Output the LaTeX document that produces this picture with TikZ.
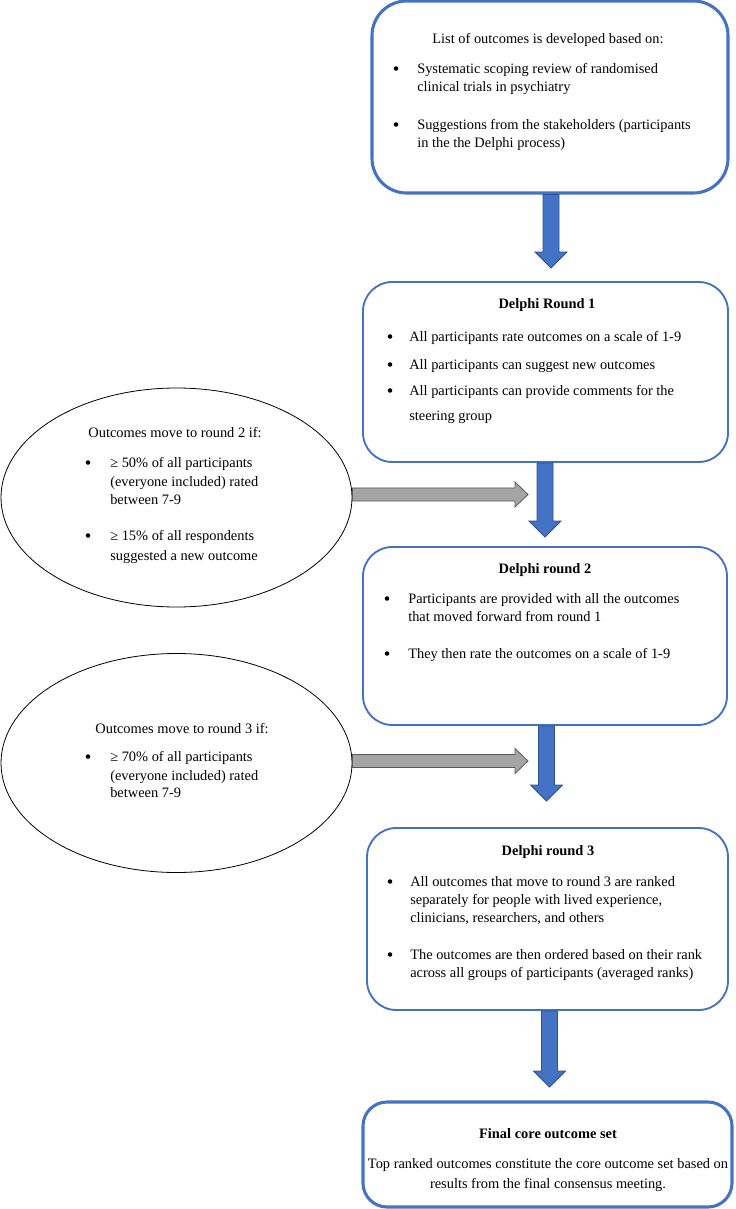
\documentclass[tikz,border=0pt]{standalone}
\usepackage{fontspec}
\setmainfont{Liberation Serif}
\usetikzlibrary{shapes.geometric,calc}
\definecolor{boxblue}{HTML}{4472C4}
\definecolor{arrowedge}{HTML}{2F528F}
\definecolor{grayfill}{HTML}{A5A5A5}
\definecolor{grayedge}{HTML}{595959}
% vertical block arrow from #1 (start) to tip #2
\newcommand{\blockdown}[3]{%
  \path[#3] let \p1=(#1), \p2=(#2) in
    (\x2-6pt,\y1) -- (\x2+6pt,\y1) -- (\x2+6pt,\y2+12pt) -- (\x2+12pt,\y2+12pt)
    -- (\x2,\y2) -- (\x2-12pt,\y2+12pt) -- (\x2-6pt,\y2+12pt) -- cycle;}
% horizontal block arrow from #1 (start) to tip #2
\newcommand{\blockright}[3]{%
  \path[#3] let \p1=(#1), \p2=(#2) in
    (\x1,\y2-4.9pt) -- (\x2-9.75pt,\y2-4.9pt) -- (\x2-9.75pt,\y2-9.4pt) -- (\x2,\y2)
    -- (\x2-9.75pt,\y2+9.4pt) -- (\x2-9.75pt,\y2+4.9pt) -- (\x1,\y2+4.9pt) -- cycle;}
\newcommand{\tline}[4]{\node[txt,anchor=mid west] (#1) at (#2,#3) {#4};}
\newcommand{\tcen}[4]{\node[txt,anchor=mid] (#1) at (#2,#3) {#4};}
\newcommand{\ttit}[4]{\node[ttl,anchor=mid] (#1) at (#2,#3) {#4};}
\newcommand{\bdot}[3]{\node[bulletdot] (#1) at (#2,#3-1.5) {};}
\begin{document}
\begin{tikzpicture}[x=0.75pt,y=-0.75pt,
  box/.style={draw=boxblue, rounded corners=22pt, line width=1.4pt, inner sep=0pt, fill=white},
  thickbox/.style={box, line width=2.3pt},
  oval/.style={draw=black, ellipse, line width=0.6pt, inner sep=0pt},
  bluearr/.style={fill=boxblue, draw=arrowedge, line width=0.6pt},
  grayarr/.style={fill=grayfill, draw=grayedge, line width=0.6pt},
  bulletdot/.style={circle, fill=black, inner sep=0pt, minimum size=3.4pt},
  txt/.style={font=\fontsize{10.8}{13}\selectfont, inner sep=0pt},
  ttl/.style={font=\fontsize{10.8}{13}\selectfont\bfseries, inner sep=0pt}]
\useasboundingbox (0,0) rectangle (735,1209);

% boxes
\node[thickbox, rounded corners=26pt, minimum width=267pt, minimum height=144pt] (b1) at (550,97) {};
\node[box, minimum width=273.75pt, minimum height=135pt] (b2) at (545.5,372) {};
\node[box, minimum width=273pt, minimum height=133.5pt] (b3) at (545,636) {};
\node[box, minimum width=270.75pt, minimum height=136.5pt] (b4) at (547.5,919) {};
\node[thickbox, rounded corners=18pt, minimum width=276.75pt, minimum height=78.75pt] (b5) at (547.5,1154.5) {};

% ellipses
\node[oval, minimum width=263.25pt, minimum height=164.25pt] (e1) at (176.5,497.5) {};
\node[oval, minimum width=263.25pt, minimum height=164.25pt] (e2) at (176.5,763) {};

% arrow tips
\coordinate (t1) at (551,268);
\coordinate (t2) at (545,537);
\coordinate (t3) at (546.5,801);
\coordinate (t4) at (549.5,1087);
\coordinate (g1) at (528,494.5);
\coordinate (g2) at (528,761);

\blockdown{b1.south}{t1}{bluearr}
\blockdown{b2.south}{t2}{bluearr}
\blockdown{b3.south}{t3}{bluearr}
\blockdown{b4.south}{t4}{bluearr}
\blockright{e1.east}{g1}{grayarr}
\blockright{e2.east}{g2}{grayarr}

% box 1 text
\tcen{b1t}{548}{40}{List of outcomes is developed based on:}
\bdot{b1d1}{396}{70}
\tline{b1l1}{417}{70}{Systematic scoping review of randomised}
\tline{b1l2}{417}{88}{clinical trials in psychiatry}
\bdot{b1d2}{396}{126}
\tline{b1l3}{417}{126}{Suggestions from the stakeholders (participants}
\tline{b1l4}{417}{144}{in the the Delphi process)}

% box 2 text
\ttit{b2t}{547}{305}{Delphi Round 1}
\bdot{b2d1}{390}{338}
\tline{b2l1}{409}{338}{All participants rate outcomes on a scale of 1-9}
\bdot{b2d2}{390}{366}
\tline{b2l2}{409}{366}{All participants can suggest new outcomes}
\bdot{b2d3}{390}{392}
\tline{b2l3}{409}{392}{All participants can provide comments for the}
\tline{b2l4}{409}{417}{steering group}

% box 3 text
\ttit{b3t}{545}{570}{Delphi round 2}
\bdot{b3d1}{387}{600}
\tline{b3l1}{408}{600}{Participants are provided with all the outcomes}
\tline{b3l2}{408}{618}{that moved forward from round 1}
\bdot{b3d2}{387}{655}
\tline{b3l3}{408}{655}{They then rate the outcomes on a scale of 1-9}

% box 4 text
\ttit{b4t}{548}{852}{Delphi round 3}
\bdot{b4d1}{390}{883}
\tline{b4l1}{410}{883}{All outcomes that move to round 3 are ranked}
\tline{b4l2}{410}{901}{separately for people with lived experience,}
\tline{b4l3}{410}{919}{clinicians, researchers, and others}
\bdot{b4d2}{390}{956}
\tline{b4l4}{410}{956}{The outcomes are then ordered based on their rank}
\tline{b4l5}{410}{974}{across all groups of participants (averaged ranks)}

% box 5 text
\ttit{b5t}{548}{1135}{Final core outcome set}
\tcen{b5l1}{548}{1165}{Top ranked outcomes constitute the core outcome set based on}
\tcen{b5l2}{548}{1185}{results from the final consensus meeting.}

% ellipse 1 text
\tcen{e1t}{175}{434}{Outcomes move to round 2 if:}
\bdot{e1d1}{88}{464}
\tline{e1l1}{110}{464}{≥ 50\% of all participants}
\tline{e1l2}{110}{483}{(everyone included) rated}
\tline{e1l3}{110}{501}{between 7-9}
\bdot{e1d2}{88}{537}
\tline{e1l4}{110}{537}{≥ 15\% of all respondents}
\tline{e1l5}{110}{557}{suggested a new outcome}

% ellipse 2 text
\tcen{e2t}{182}{730}{Outcomes move to round 3 if:}
\bdot{e2d1}{88}{758}
\tline{e2l1}{110}{758}{≥ 70\% of all participants}
\tline{e2l2}{110}{777}{(everyone included) rated}
\tline{e2l3}{110}{794}{between 7-9}
\end{tikzpicture}
\end{document}
